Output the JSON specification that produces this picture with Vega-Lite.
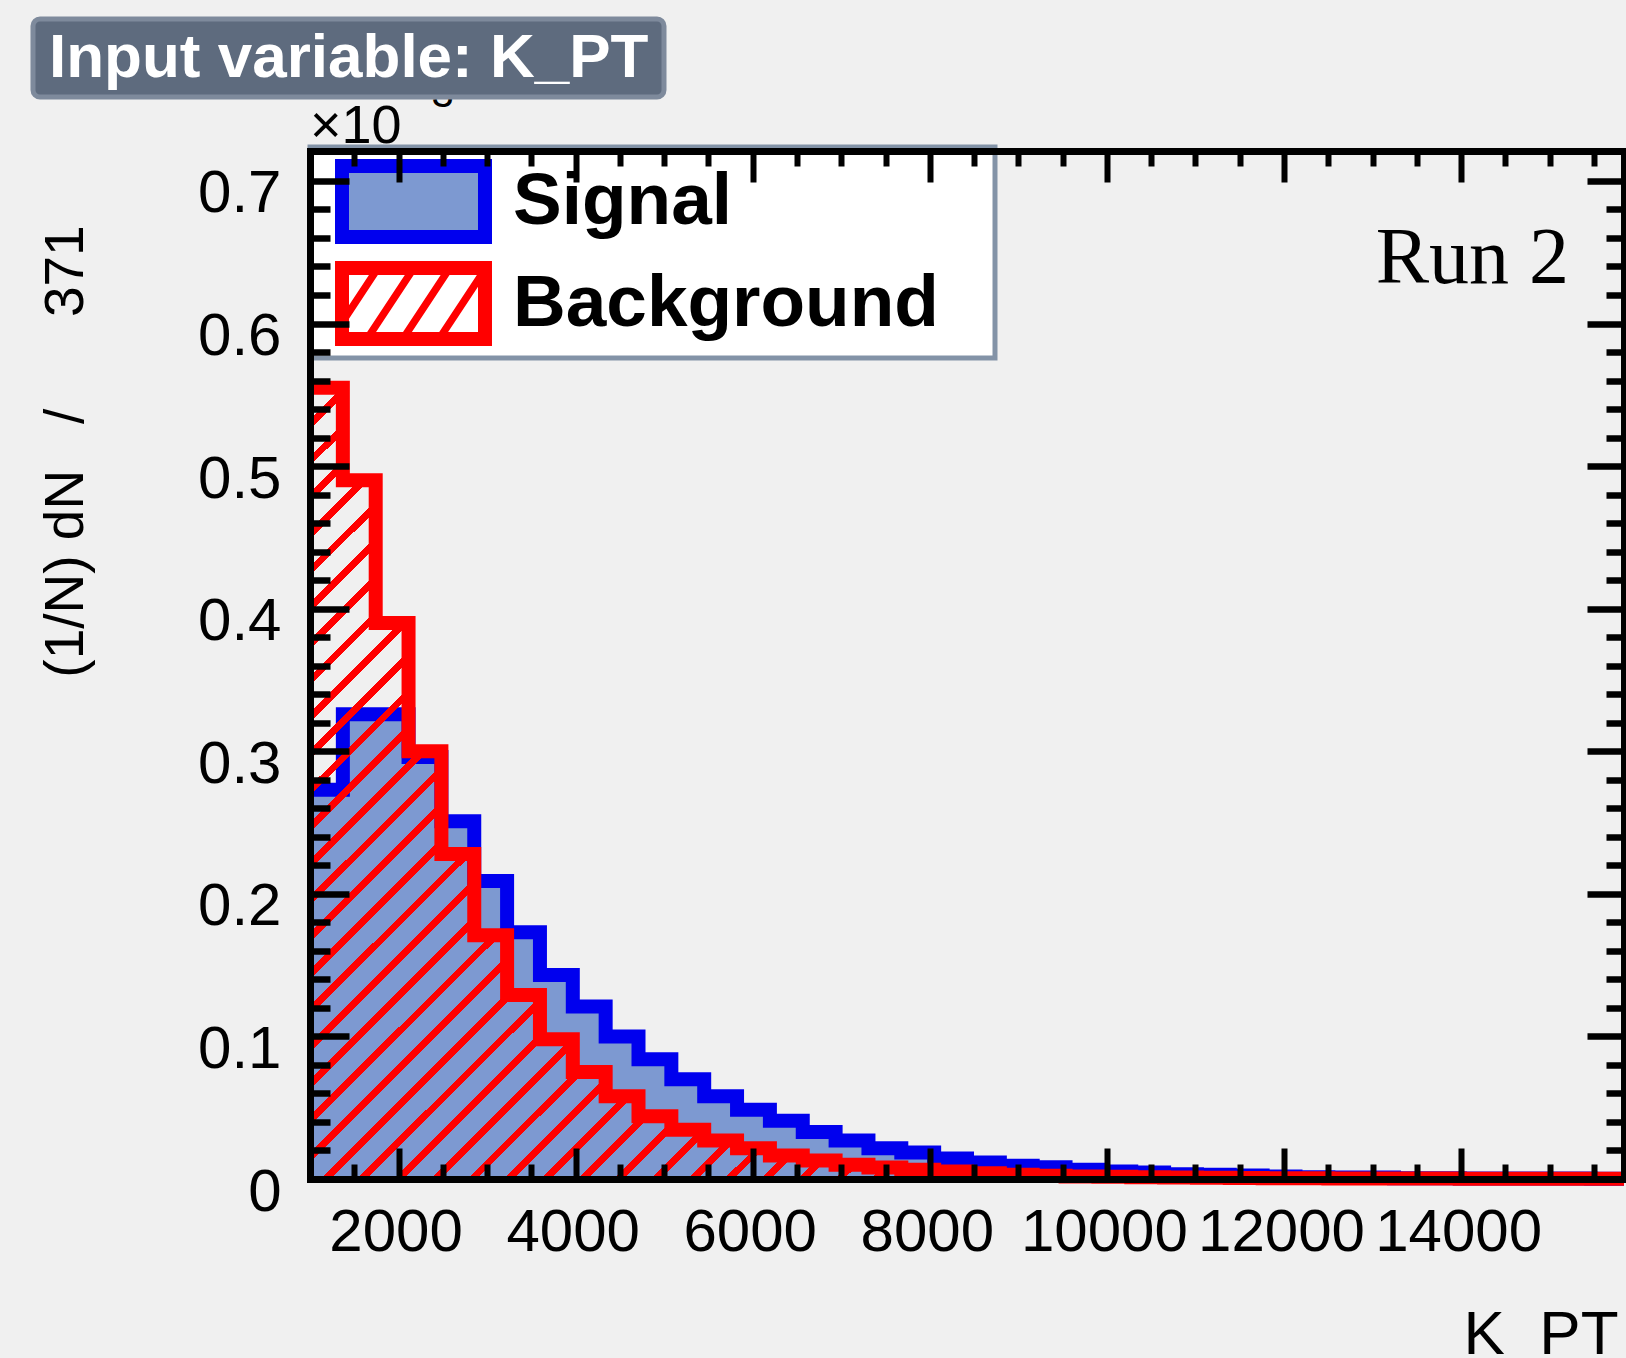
{
  "$schema": "https://vega.github.io/schema/vega-lite/v6.json",
  "width": 1314,
  "height": 1028,
  "autosize": {"type": "none"},
  "padding": {"left": 310, "top": 151, "right": 2, "bottom": 179},
  "background": "#f0f0f0",
  "config": {
    "view": {"stroke": null, "fill": "white"},
    "font": "Liberation Sans",
    "legend": {"strokeWidth": 5}
  },
  "data": {
    "values": [
      {"edge": 1000, "Signal": 0.273, "Background": 0.555},
      {"edge": 1371, "Signal": 0.326, "Background": 0.490},
      {"edge": 1742, "Signal": 0.326, "Background": 0.390},
      {"edge": 2113, "Signal": 0.296, "Background": 0.300},
      {"edge": 2484, "Signal": 0.251, "Background": 0.228},
      {"edge": 2855, "Signal": 0.209, "Background": 0.171},
      {"edge": 3226, "Signal": 0.173, "Background": 0.129},
      {"edge": 3597, "Signal": 0.143, "Background": 0.098},
      {"edge": 3968, "Signal": 0.121, "Background": 0.075},
      {"edge": 4339, "Signal": 0.100, "Background": 0.058},
      {"edge": 4710, "Signal": 0.084, "Background": 0.044},
      {"edge": 5081, "Signal": 0.070, "Background": 0.0345},
      {"edge": 5452, "Signal": 0.058, "Background": 0.027},
      {"edge": 5823, "Signal": 0.0486, "Background": 0.0216},
      {"edge": 6194, "Signal": 0.0408, "Background": 0.0165},
      {"edge": 6565, "Signal": 0.0329, "Background": 0.013},
      {"edge": 6936, "Signal": 0.027, "Background": 0.010},
      {"edge": 7307, "Signal": 0.0216, "Background": 0.0081},
      {"edge": 7678, "Signal": 0.0186, "Background": 0.0065},
      {"edge": 8049, "Signal": 0.0144, "Background": 0.0053},
      {"edge": 8420, "Signal": 0.0116, "Background": 0.0041},
      {"edge": 8791, "Signal": 0.0093, "Background": 0.0030},
      {"edge": 9162, "Signal": 0.0083, "Background": 0.0022},
      {"edge": 9533, "Signal": 0.0065, "Background": 0.0018},
      {"edge": 9904, "Signal": 0.0053, "Background": 0.0015},
      {"edge": 10275, "Signal": 0.0046, "Background": 0.0012},
      {"edge": 10646, "Signal": 0.0034, "Background": 0.0010},
      {"edge": 11017, "Signal": 0.0030, "Background": 0.0008},
      {"edge": 11388, "Signal": 0.0025, "Background": 0.0007},
      {"edge": 11759, "Signal": 0.0018, "Background": 0.0006},
      {"edge": 12130, "Signal": 0.0013, "Background": 0.0005},
      {"edge": 12501, "Signal": 0.0011, "Background": 0.0004},
      {"edge": 12872, "Signal": 0.0011, "Background": 0.0004},
      {"edge": 13243, "Signal": 0.0006, "Background": 0.0003},
      {"edge": 13614, "Signal": 0.0005, "Background": 0.0003},
      {"edge": 13985, "Signal": 0.0004, "Background": 0.0002},
      {"edge": 14356, "Signal": 0.0004, "Background": 0.0002},
      {"edge": 14727, "Signal": 0.0003, "Background": 0.0002},
      {"edge": 15098, "Signal": 0.0003, "Background": 0.0001},
      {"edge": 15469, "Signal": 0.0002, "Background": 0.0001},
      {"edge": 15840, "Signal": 0.0002, "Background": 0.0001}
    ]
  },
  "resolve": {"axis": {"x": "independent", "y": "independent"}},
  "layer": [
    {
      "mark": {"type": "area", "interpolate": "step-after", "fill": "#7d99d1", "opacity": 1, "strokeWidth": 0},
      "encoding": {
        "x": {
          "field": "edge", "type": "quantitative",
          "scale": {"domain": [1000, 15840], "nice": false, "zero": false},
          "axis": {
            "orient": "bottom", "values": [2000, 4000, 6000, 8000, 10000, 12000, 14000], "format": "d",
            "tickSize": -31, "tickWidth": 6, "tickColor": "black",
            "domain": true, "domainColor": "black", "domainWidth": 7, "domainCap": "square",
            "grid": false, "labelFont": "Liberation Sans", "labelFontSize": 60, "labelColor": "black",
            "labelPadding": 55, "labelOffset": -3, "labelFlush": false, "labelOverlap": false, "labelBound": false,
            "title": "K_PT", "titleFont": "Liberation Sans", "titleFontSize": 62, "titleFontWeight": "normal",
            "titleColor": "black", "titleX": 1308, "titleY": 174, "titleAlign": "right", "titleBaseline": "alphabetic",
            "zindex": 2
          }
        },
        "y": {
          "field": "Signal", "type": "quantitative",
          "scale": {"domain": [0, 0.721], "nice": false, "zero": false},
          "axis": {
            "orient": "left", "values": [0, 0.1, 0.2, 0.3, 0.4, 0.5, 0.6, 0.7],
            "labelExpr": "datum.value == 0 ? '0' : format(datum.value, '.1f')",
            "tickSize": -39, "tickWidth": 6.5, "tickColor": "black",
            "domain": true, "domainColor": "black", "domainWidth": 7, "domainCap": "square",
            "grid": false, "labelFont": "Liberation Sans", "labelFontSize": 60, "labelColor": "black",
            "labelPadding": 68, "labelOffset": 13, "labelFlush": false, "labelOverlap": false, "labelBound": false,
            "title": "(1/N) dN\u00a0\u00a0\u00a0/\u00a0\u00a0\u00a0\u00a0\u00a0\u00a0371", "titleFont": "Liberation Sans", "titleFontSize": 55,
            "titleFontWeight": "normal", "titleColor": "black", "titleX": -228, "titleY": 300, "titleAngle": -90,
            "titleAlign": "center", "titleBaseline": "alphabetic",
            "zindex": 2
          }
        }
      }
    },
    {
      "mark": {"type": "line", "interpolate": "step-after", "stroke": "#0000ee", "strokeWidth": 14, "strokeJoin": "miter", "strokeCap": "butt"},
      "encoding": {
        "x": {
          "field": "edge", "type": "quantitative",
          "scale": {"domain": [1000, 15840], "nice": false, "zero": false},
          "axis": {
            "orient": "top", "values": [2000, 4000, 6000, 8000, 10000, 12000, 14000],
            "tickSize": -31, "tickWidth": 6, "tickColor": "black",
            "domain": true, "domainColor": "black", "domainWidth": 7, "domainCap": "square",
            "labels": false, "grid": false, "title": null, "zindex": 2
          }
        },
        "y": {
          "field": "Signal", "type": "quantitative",
          "scale": {"domain": [0, 0.721], "nice": false, "zero": false},
          "axis": {
            "orient": "right", "values": [0.1, 0.2, 0.3, 0.4, 0.5, 0.6, 0.7],
            "tickSize": -37, "tickWidth": 6.5, "tickColor": "black",
            "domain": true, "domainColor": "black", "domainWidth": 7, "domainCap": "square",
            "labels": false, "grid": false, "title": null, "zindex": 2
          }
        }
      }
    },
    {
      "mark": {
        "type": "area", "interpolate": "step-after", "opacity": 1, "strokeWidth": 0,
        "fill": {
          "gradient": "linear", "x1": 0, "y1": 0, "x2": 1.229, "y2": 0.741,
          "stops": [
            {"offset": 0, "color": "red"}, {"offset": 0.0023, "color": "red"}, {"offset": 0.0023, "color": "transparent"},
            {"offset": 0.0144, "color": "transparent"}, {"offset": 0.0144, "color": "red"}, {"offset": 0.0189, "color": "red"}, {"offset": 0.0189, "color": "transparent"},
            {"offset": 0.0311, "color": "transparent"}, {"offset": 0.0311, "color": "red"}, {"offset": 0.0356, "color": "red"}, {"offset": 0.0356, "color": "transparent"},
            {"offset": 0.0478, "color": "transparent"}, {"offset": 0.0478, "color": "red"}, {"offset": 0.0523, "color": "red"}, {"offset": 0.0523, "color": "transparent"},
            {"offset": 0.0644, "color": "transparent"}, {"offset": 0.0644, "color": "red"}, {"offset": 0.0689, "color": "red"}, {"offset": 0.0689, "color": "transparent"},
            {"offset": 0.0811, "color": "transparent"}, {"offset": 0.0811, "color": "red"}, {"offset": 0.0856, "color": "red"}, {"offset": 0.0856, "color": "transparent"},
            {"offset": 0.0978, "color": "transparent"}, {"offset": 0.0978, "color": "red"}, {"offset": 0.1023, "color": "red"}, {"offset": 0.1023, "color": "transparent"},
            {"offset": 0.1144, "color": "transparent"}, {"offset": 0.1144, "color": "red"}, {"offset": 0.1189, "color": "red"}, {"offset": 0.1189, "color": "transparent"},
            {"offset": 0.1311, "color": "transparent"}, {"offset": 0.1311, "color": "red"}, {"offset": 0.1356, "color": "red"}, {"offset": 0.1356, "color": "transparent"},
            {"offset": 0.1478, "color": "transparent"}, {"offset": 0.1478, "color": "red"}, {"offset": 0.1523, "color": "red"}, {"offset": 0.1523, "color": "transparent"},
            {"offset": 0.1644, "color": "transparent"}, {"offset": 0.1644, "color": "red"}, {"offset": 0.1689, "color": "red"}, {"offset": 0.1689, "color": "transparent"},
            {"offset": 0.1811, "color": "transparent"}, {"offset": 0.1811, "color": "red"}, {"offset": 0.1856, "color": "red"}, {"offset": 0.1856, "color": "transparent"},
            {"offset": 0.1978, "color": "transparent"}, {"offset": 0.1978, "color": "red"}, {"offset": 0.2023, "color": "red"}, {"offset": 0.2023, "color": "transparent"},
            {"offset": 0.2144, "color": "transparent"}, {"offset": 0.2144, "color": "red"}, {"offset": 0.2189, "color": "red"}, {"offset": 0.2189, "color": "transparent"},
            {"offset": 0.2311, "color": "transparent"}, {"offset": 0.2311, "color": "red"}, {"offset": 0.2356, "color": "red"}, {"offset": 0.2356, "color": "transparent"},
            {"offset": 0.2478, "color": "transparent"}, {"offset": 0.2478, "color": "red"}, {"offset": 0.2523, "color": "red"}, {"offset": 0.2523, "color": "transparent"},
            {"offset": 0.2644, "color": "transparent"}, {"offset": 0.2644, "color": "red"}, {"offset": 0.2689, "color": "red"}, {"offset": 0.2689, "color": "transparent"},
            {"offset": 0.2811, "color": "transparent"}, {"offset": 0.2811, "color": "red"}, {"offset": 0.2856, "color": "red"}, {"offset": 0.2856, "color": "transparent"},
            {"offset": 0.2978, "color": "transparent"}, {"offset": 0.2978, "color": "red"}, {"offset": 0.3023, "color": "red"}, {"offset": 0.3023, "color": "transparent"},
            {"offset": 0.3144, "color": "transparent"}, {"offset": 0.3144, "color": "red"}, {"offset": 0.3189, "color": "red"}, {"offset": 0.3189, "color": "transparent"},
            {"offset": 0.3311, "color": "transparent"}, {"offset": 0.3311, "color": "red"}, {"offset": 0.3356, "color": "red"}, {"offset": 0.3356, "color": "transparent"},
            {"offset": 0.3478, "color": "transparent"}, {"offset": 0.3478, "color": "red"}, {"offset": 0.3523, "color": "red"}, {"offset": 0.3523, "color": "transparent"},
            {"offset": 0.3644, "color": "transparent"}, {"offset": 0.3644, "color": "red"}, {"offset": 0.3689, "color": "red"}, {"offset": 0.3689, "color": "transparent"},
            {"offset": 0.3811, "color": "transparent"}, {"offset": 0.3811, "color": "red"}, {"offset": 0.3856, "color": "red"}, {"offset": 0.3856, "color": "transparent"},
            {"offset": 0.3978, "color": "transparent"}, {"offset": 0.3978, "color": "red"}, {"offset": 0.4023, "color": "red"}, {"offset": 0.4023, "color": "transparent"},
            {"offset": 0.4144, "color": "transparent"}, {"offset": 0.4144, "color": "red"}, {"offset": 0.4189, "color": "red"}, {"offset": 0.4189, "color": "transparent"},
            {"offset": 0.4311, "color": "transparent"}, {"offset": 0.4311, "color": "red"}, {"offset": 0.4356, "color": "red"}, {"offset": 0.4356, "color": "transparent"},
            {"offset": 0.4478, "color": "transparent"}, {"offset": 0.4478, "color": "red"}, {"offset": 0.4523, "color": "red"}, {"offset": 0.4523, "color": "transparent"},
            {"offset": 0.4644, "color": "transparent"}, {"offset": 0.4644, "color": "red"}, {"offset": 0.4689, "color": "red"}, {"offset": 0.4689, "color": "transparent"},
            {"offset": 0.4811, "color": "transparent"}, {"offset": 0.4811, "color": "red"}, {"offset": 0.4856, "color": "red"}, {"offset": 0.4856, "color": "transparent"},
            {"offset": 0.4978, "color": "transparent"}, {"offset": 0.4978, "color": "red"}, {"offset": 0.5023, "color": "red"}, {"offset": 0.5023, "color": "transparent"},
            {"offset": 0.5144, "color": "transparent"}, {"offset": 0.5144, "color": "red"}, {"offset": 0.5189, "color": "red"}, {"offset": 0.5189, "color": "transparent"},
            {"offset": 0.5311, "color": "transparent"}, {"offset": 0.5311, "color": "red"}, {"offset": 0.5356, "color": "red"}, {"offset": 0.5356, "color": "transparent"},
            {"offset": 0.5478, "color": "transparent"}, {"offset": 0.5478, "color": "red"}, {"offset": 0.5523, "color": "red"}, {"offset": 0.5523, "color": "transparent"},
            {"offset": 0.5644, "color": "transparent"}, {"offset": 0.5644, "color": "red"}, {"offset": 0.5689, "color": "red"}, {"offset": 0.5689, "color": "transparent"},
            {"offset": 0.5811, "color": "transparent"}, {"offset": 0.5811, "color": "red"}, {"offset": 0.5856, "color": "red"}, {"offset": 0.5856, "color": "transparent"},
            {"offset": 0.5978, "color": "transparent"}, {"offset": 0.5978, "color": "red"}, {"offset": 0.6023, "color": "red"}, {"offset": 0.6023, "color": "transparent"},
            {"offset": 0.6144, "color": "transparent"}, {"offset": 0.6144, "color": "red"}, {"offset": 0.6189, "color": "red"}, {"offset": 0.6189, "color": "transparent"},
            {"offset": 0.6311, "color": "transparent"}, {"offset": 0.6311, "color": "red"}, {"offset": 0.6356, "color": "red"}, {"offset": 0.6356, "color": "transparent"},
            {"offset": 0.6478, "color": "transparent"}, {"offset": 0.6478, "color": "red"}, {"offset": 0.6523, "color": "red"}, {"offset": 0.6523, "color": "transparent"},
            {"offset": 0.6644, "color": "transparent"}, {"offset": 0.6644, "color": "red"}, {"offset": 0.6689, "color": "red"}, {"offset": 0.6689, "color": "transparent"},
            {"offset": 0.6811, "color": "transparent"}, {"offset": 0.6811, "color": "red"}, {"offset": 0.6856, "color": "red"}, {"offset": 0.6856, "color": "transparent"},
            {"offset": 0.6978, "color": "transparent"}, {"offset": 0.6978, "color": "red"}, {"offset": 0.7023, "color": "red"}, {"offset": 0.7023, "color": "transparent"},
            {"offset": 0.7144, "color": "transparent"}, {"offset": 0.7144, "color": "red"}, {"offset": 0.7189, "color": "red"}, {"offset": 0.7189, "color": "transparent"},
            {"offset": 0.7311, "color": "transparent"}, {"offset": 0.7311, "color": "red"}, {"offset": 0.7356, "color": "red"}, {"offset": 0.7356, "color": "transparent"},
            {"offset": 0.7478, "color": "transparent"}, {"offset": 0.7478, "color": "red"}, {"offset": 0.7523, "color": "red"}, {"offset": 0.7523, "color": "transparent"},
            {"offset": 0.7644, "color": "transparent"}, {"offset": 0.7644, "color": "red"}, {"offset": 0.7689, "color": "red"}, {"offset": 0.7689, "color": "transparent"},
            {"offset": 0.7811, "color": "transparent"}, {"offset": 0.7811, "color": "red"}, {"offset": 0.7856, "color": "red"}, {"offset": 0.7856, "color": "transparent"},
            {"offset": 0.7978, "color": "transparent"}, {"offset": 0.7978, "color": "red"}, {"offset": 0.8023, "color": "red"}, {"offset": 0.8023, "color": "transparent"},
            {"offset": 0.8144, "color": "transparent"}, {"offset": 0.8144, "color": "red"}, {"offset": 0.8189, "color": "red"}, {"offset": 0.8189, "color": "transparent"},
            {"offset": 0.8311, "color": "transparent"}, {"offset": 0.8311, "color": "red"}, {"offset": 0.8356, "color": "red"}, {"offset": 0.8356, "color": "transparent"},
            {"offset": 0.8478, "color": "transparent"}, {"offset": 0.8478, "color": "red"}, {"offset": 0.8523, "color": "red"}, {"offset": 0.8523, "color": "transparent"},
            {"offset": 0.8644, "color": "transparent"}, {"offset": 0.8644, "color": "red"}, {"offset": 0.8689, "color": "red"}, {"offset": 0.8689, "color": "transparent"},
            {"offset": 0.8811, "color": "transparent"}, {"offset": 0.8811, "color": "red"}, {"offset": 0.8856, "color": "red"}, {"offset": 0.8856, "color": "transparent"},
            {"offset": 0.8978, "color": "transparent"}, {"offset": 0.8978, "color": "red"}, {"offset": 0.9023, "color": "red"}, {"offset": 0.9023, "color": "transparent"},
            {"offset": 0.9144, "color": "transparent"}, {"offset": 0.9144, "color": "red"}, {"offset": 0.9189, "color": "red"}, {"offset": 0.9189, "color": "transparent"},
            {"offset": 0.9311, "color": "transparent"}, {"offset": 0.9311, "color": "red"}, {"offset": 0.9356, "color": "red"}, {"offset": 0.9356, "color": "transparent"},
            {"offset": 0.9478, "color": "transparent"}, {"offset": 0.9478, "color": "red"}, {"offset": 0.9523, "color": "red"}, {"offset": 0.9523, "color": "transparent"},
            {"offset": 0.9644, "color": "transparent"}, {"offset": 0.9644, "color": "red"}, {"offset": 0.9689, "color": "red"}, {"offset": 0.9689, "color": "transparent"},
            {"offset": 1, "color": "transparent"}
          ]
        }
      },
      "encoding": {
        "x": {
          "field": "edge", "type": "quantitative",
          "scale": {"domain": [1000, 15840], "nice": false, "zero": false},
          "axis": {
            "orient": "bottom",
            "values": [1500, 2500, 3000, 3500, 4500, 5000, 5500, 6500, 7000, 7500, 8500, 9000, 9500, 10500, 11000, 11500, 12500, 13000, 13500, 14500, 15000, 15500],
            "tickSize": -15, "tickWidth": 6, "tickColor": "black",
            "domain": false, "labels": false, "grid": false, "title": null, "zindex": 2
          }
        },
        "y": {
          "field": "Background", "type": "quantitative",
          "scale": {"domain": [0, 0.721], "nice": false, "zero": false},
          "axis": {
            "orient": "left",
            "values": [0.02, 0.04, 0.06, 0.08, 0.12, 0.14, 0.16, 0.18, 0.22, 0.24, 0.26, 0.28, 0.32, 0.34, 0.36, 0.38, 0.42, 0.44, 0.46, 0.48, 0.52, 0.54, 0.56, 0.58, 0.62, 0.64, 0.66, 0.68],
            "tickSize": -20, "tickWidth": 6.5, "tickColor": "black",
            "domain": false, "labels": false, "grid": false, "title": null, "zindex": 2
          }
        }
      }
    },
    {
      "mark": {"type": "line", "interpolate": "step-after", "stroke": "#ff0000", "strokeWidth": 14, "strokeJoin": "miter", "strokeCap": "butt"},
      "encoding": {
        "x": {
          "field": "edge", "type": "quantitative",
          "scale": {"domain": [1000, 15840], "nice": false, "zero": false},
          "axis": {
            "orient": "top",
            "values": [1500, 2500, 3000, 3500, 4500, 5000, 5500, 6500, 7000, 7500, 8500, 9000, 9500, 10500, 11000, 11500, 12500, 13000, 13500, 14500, 15000, 15500],
            "tickSize": -15, "tickWidth": 6, "tickColor": "black",
            "domain": false, "labels": false, "grid": false, "title": null, "zindex": 2
          }
        },
        "y": {
          "field": "Background", "type": "quantitative",
          "scale": {"domain": [0, 0.721], "nice": false, "zero": false},
          "axis": {
            "orient": "right",
            "values": [0.02, 0.04, 0.06, 0.08, 0.12, 0.14, 0.16, 0.18, 0.22, 0.24, 0.26, 0.28, 0.32, 0.34, 0.36, 0.38, 0.42, 0.44, 0.46, 0.48, 0.52, 0.54, 0.56, 0.58, 0.62, 0.64, 0.66, 0.68],
            "tickSize": -18, "tickWidth": 6.5, "tickColor": "black",
            "domain": false, "labels": false, "grid": false, "title": null, "zindex": 2
          }
        }
      }
    },
    {
      "transform": [{"fold": ["Signal", "Background"], "as": ["series", "v"]}],
      "mark": {"type": "point", "filled": true, "opacity": 0},
      "encoding": {
        "x": {"field": "edge", "type": "quantitative", "scale": {"domain": [1000, 15840], "nice": false, "zero": false}, "axis": null},
        "y": {"field": "v", "type": "quantitative", "scale": {"domain": [0, 0.721], "nice": false, "zero": false}, "axis": null},
        "fill": {
          "field": "series", "type": "nominal",
          "scale": {"domain": ["Signal", "Background"], "range": ["#7d99d1", "#ff0000"]},
          "legend": {
            "orient": "none", "legendX": 0, "legendY": -4, "direction": "vertical",
            "title": "\u00a0", "titleOrient": "right", "titlePadding": 44, "titleFontSize": 16,
            "fillColor": "white", "strokeColor": "#8393a7", "padding": 12, "cornerRadius": 0,
            "symbolSize": 5041, "symbolStrokeWidth": 14, "symbolOffset": 49, "symbolOpacity": 1,
            "labelOffset": 57, "labelFont": "Liberation Sans", "labelFontSize": 73, "labelFontWeight": "bold",
            "labelColor": "black", "labelLimit": 1000, "rowPadding": 17, "clipHeight": 85, "zindex": 1
          }
        },
        "stroke": {
          "field": "series", "type": "nominal",
          "scale": {"domain": ["Signal", "Background"], "range": ["#0000ee", "transparent"]},
          "legend": {
            "orient": "none", "legendX": 0, "legendY": -4, "direction": "vertical",
            "title": "\u00a0", "titleOrient": "right", "titlePadding": 44, "titleFontSize": 16,
            "fillColor": "white", "strokeColor": "#8393a7", "padding": 12, "cornerRadius": 0,
            "symbolSize": 5041, "symbolStrokeWidth": 14, "symbolOffset": 49, "symbolOpacity": 1,
            "labelOffset": 57, "labelFont": "Liberation Sans", "labelFontSize": 73, "labelFontWeight": "bold",
            "labelColor": "black", "labelLimit": 1000, "rowPadding": 17, "clipHeight": 85, "zindex": 1
          }
        },
        "shape": {
          "field": "series", "type": "nominal",
          "scale": {
            "domain": ["Signal", "Background"],
            "range": [
              "M-2.014,-1H2.014V1H-2.014Z",
              "M-2.211,-1.197H2.211V1.197H-2.211Z M-1.817,-0.803V0.803H1.817V-0.803Z M-1.255,-0.803L-1.005,-0.803L-1.817,0.427L-1.817,0.0485Z M-1.305,0.803L-1.055,0.803L0.005,-0.803L-0.245,-0.803Z M-0.295,0.803L-0.045,0.803L1.015,-0.803L0.765,-0.803Z M0.725,0.803L0.975,0.803L1.817,-0.473L1.817,-0.803L1.785,-0.803Z"
            ]
          },
          "legend": {
            "orient": "none", "legendX": 0, "legendY": -4, "direction": "vertical",
            "title": "\u00a0", "titleOrient": "right", "titlePadding": 44, "titleFontSize": 16,
            "fillColor": "white", "strokeColor": "#8393a7", "padding": 12, "cornerRadius": 0,
            "symbolSize": 5041, "symbolStrokeWidth": 14, "symbolOffset": 49, "symbolOpacity": 1,
            "labelOffset": 57, "labelFont": "Liberation Sans", "labelFontSize": 73, "labelFontWeight": "bold",
            "labelColor": "black", "labelLimit": 1000, "rowPadding": 17, "clipHeight": 85, "zindex": 1
          }
        }
      }
    },
    {
      "data": {"values": [{"t": "Input variable: K_PT"}]},
      "mark": {"type": "point", "opacity": 0},
      "encoding": {
        "strokeDash": {
          "field": "t", "type": "nominal",
          "legend": {
            "orient": "none", "legendX": -277, "legendY": -132,
            "title": "\u00a0", "titleOrient": "right", "titlePadding": 8, "titleFontSize": 10,
            "fillColor": "#5e6b7e", "strokeColor": "#7e8a9c", "cornerRadius": 7, "padding": 8,
            "symbolSize": 0, "symbolOpacity": 0, "symbolStrokeWidth": 0, "symbolOffset": 0,
            "labelOffset": -54, "labelFont": "Liberation Sans", "labelFontSize": 62, "labelFontWeight": "bold",
            "labelColor": "white", "labelLimit": 1000, "labelBaseline": "middle", "zindex": 1
          }
        }
      }
    },
    {
      "data": {"values": [{"label": "Run 2"}]},
      "mark": {"type": "text", "font": "Liberation Serif", "fontSize": 80, "align": "right", "baseline": "alphabetic", "color": "black"},
      "encoding": {
        "x": {"datum": 15219, "type": "quantitative", "scale": {"domain": [1000, 15840], "nice": false, "zero": false}, "axis": null},
        "y": {"datum": 0.6284, "type": "quantitative", "scale": {"domain": [0, 0.721], "nice": false, "zero": false}, "axis": null},
        "text": {"field": "label"}
      }
    },
    {
      "data": {"values": [{"label": "×10"}]},
      "mark": {"type": "text", "font": "Liberation Sans", "fontSize": 54, "align": "left", "baseline": "alphabetic", "color": "black"},
      "encoding": {
        "x": {"datum": 1000, "type": "quantitative", "scale": {"domain": [1000, 15840], "nice": false, "zero": false}, "axis": null},
        "y": {"datum": 0.7265, "type": "quantitative", "scale": {"domain": [0, 0.721], "nice": false, "zero": false}, "axis": null},
        "text": {"field": "label"}
      }
    },
    {
      "data": {"values": [{"label": "−3"}]},
      "mark": {"type": "text", "font": "Liberation Sans", "fontSize": 40, "align": "left", "baseline": "alphabetic", "color": "black"},
      "encoding": {
        "x": {"datum": 2107, "type": "quantitative", "scale": {"domain": [1000, 15840], "nice": false, "zero": false}, "axis": null},
        "y": {"datum": 0.7517, "type": "quantitative", "scale": {"domain": [0, 0.721], "nice": false, "zero": false}, "axis": null},
        "text": {"field": "label"}
      }
    }
  ]
}
